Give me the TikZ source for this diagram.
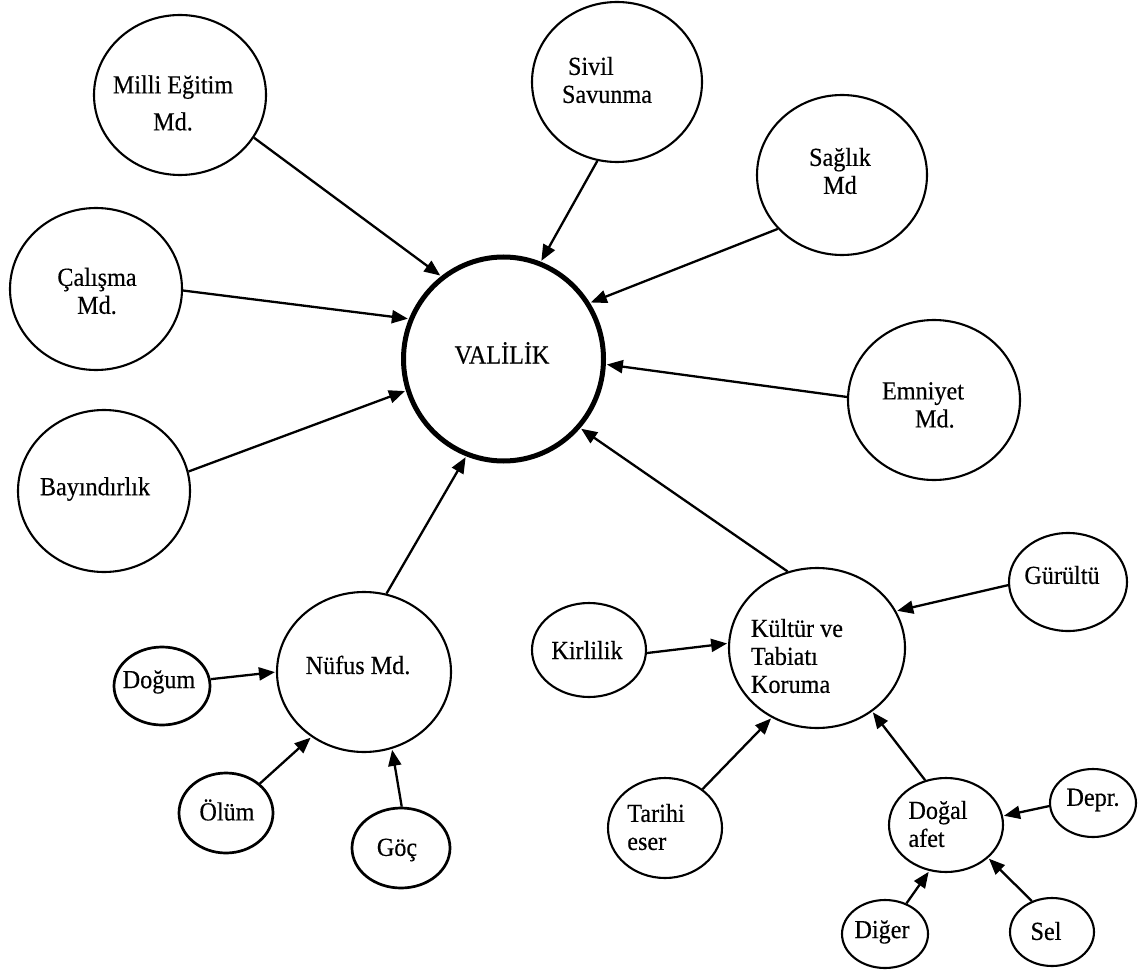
\documentclass[tikz,border=0pt]{standalone}
\usepackage{fontspec}
\setmainfont{Liberation Serif}[FakeStretch=0.93, FakeBold=0.35]
\usetikzlibrary{shapes.geometric,arrows.meta}
\tikzset{
  ell/.style={ellipse, draw=black, line width=2.1pt, inner sep=0pt, fill=white},
  smallell/.style={ell, line width=2.7pt},
  mainell/.style={ell, line width=5pt},
  lbl/.style={inner sep=0pt, align=center, font=\fontsize{26}{28}\selectfont},
  lbll/.style={lbl, align=left},
  arr/.style={line width=2.3pt, -{Triangle[length=16pt,width=13pt]}, shorten >=1pt},
}
\begin{document}
\begin{tikzpicture}[x=1pt,y=-1pt]
\useasboundingbox (0,0) rectangle (1142,973);
% ellipses
\node[mainell, minimum width=200pt, minimum height=204pt] (val) at (503.5,359) {};
\node[ell, minimum width=172pt, minimum height=160pt] (milli) at (180,95) {};
\node[ell, minimum width=170pt, minimum height=160pt] (sivil) at (617,82) {};
\node[ell, minimum width=170pt, minimum height=160pt] (saglik) at (842,175) {};
\node[ell, minimum width=172pt, minimum height=162pt] (calisma) at (96,289) {};
\node[ell, minimum width=172pt, minimum height=162pt] (bayin) at (104,491) {};
\node[ell, minimum width=172pt, minimum height=160pt] (emniyet) at (934,400) {};
\node[ell, minimum width=174pt, minimum height=160pt] (nufus) at (364,672) {};
\node[ell, minimum width=176pt, minimum height=160pt] (kultur) at (817,648) {};
\node[ell, minimum width=114pt, minimum height=94pt] (kirlilik) at (589,650) {};
\node[ell, minimum width=118pt, minimum height=98pt] (gurultu) at (1068,582) {};
\node[smallell, minimum width=96pt, minimum height=78pt] (dogum) at (162,686) {};
\node[smallell, minimum width=94pt, minimum height=80pt] (olum) at (226,813) {};
\node[smallell, minimum width=98pt, minimum height=80pt] (goc) at (401,848) {};
\node[ell, minimum width=114pt, minimum height=100pt] (tarihi) at (665,828) {};
\node[ell, minimum width=114pt, minimum height=94pt] (dogal) at (946,825) {};
\node[ell, minimum width=86pt, minimum height=68pt] (depr) at (1093,803) {};
\node[ell, minimum width=86pt, minimum height=68pt] (diger) at (885,934) {};
\node[ell, minimum width=84pt, minimum height=68pt] (sel) at (1052,932) {};
% texts
\node[lbl] (val-t) at (502,353) {VALİLİK};
\node[lbl, font=\fontsize{26}{37}\selectfont] (milli-t) at (173,103) {Milli Eğitim\\Md.};
\node[lbll] (sivil-t) at (607,80) {\hspace{6pt}Sivil\\Savunma};
\node[lbl] (saglik-t) at (840,171) {Sağlık\\Md};
\node[lbl] (calisma-t) at (97,291) {Çalışma\\Md.};
\node[lbl] (bayin-t) at (95,489) {Bayındırlık};
\node[lbll] (emniyet-t) at (923,405) {Emniyet\\\hspace{33pt}Md.};
\node[lbl] (nufus-t) at (358,665) {Nüfus Md.};
\node[lbll] (kultur-t) at (797,656) {Kültür ve\\Tabiatı\\Koruma};
\node[lbl] (kirlilik-t) at (587,650) {Kirlilik};
\node[lbl] (gurultu-t) at (1062,575) {Gürültü};
\node[lbl] (dogum-t) at (159,682) {Doğum};
\node[lbl] (olum-t) at (227,810) {Ölüm};
\node[lbl] (goc-t) at (397,850) {Göç};
\node[lbll] (tarihi-t) at (656,827) {Tarihi\\eser};
\node[lbll] (dogal-t) at (938,824) {Doğal\\afet};
\node[lbl] (depr-t) at (1093,800) {Depr.};
\node[lbl] (diger-t) at (882,932) {Diğer};
\node[lbl] (sel-t) at (1046,931) {Sel};
% connectors
\draw[arr] (milli.-30) -- (val.127);
\draw[arr] (sivil.-104) -- (val.69);
\draw[arr] (saglik.-140) -- (val.33);
\draw[arr] (calisma.-1) -- (val.157);
\draw[arr] (bayin.13) -- (val.-162);
\draw[arr] (emniyet.178) -- (val.-3);
\draw[arr] (nufus.74) -- (val.-111);
\draw[arr] (kultur.111) -- (val.-42);
\draw[arr] (dogum.8) -- (nufus.180);
\draw[arr] (olum.41) -- (nufus.-129);
\draw[arr] (goc.89) -- (nufus.-70);
\draw[arr] (kirlilik.-3) -- (kultur.177);
\draw[arr] (gurultu.183) -- (kultur.25);
\draw[arr] (tarihi.46) -- (kultur.-123);
\draw[arr] (dogal.115) -- (kultur.-49);
\draw[arr] (depr.184) -- (dogal.9);
\draw[arr] (diger.55) -- (dogal.-110);
\draw[arr] (sel.123) -- (dogal.-38);
\end{tikzpicture}
\end{document}
